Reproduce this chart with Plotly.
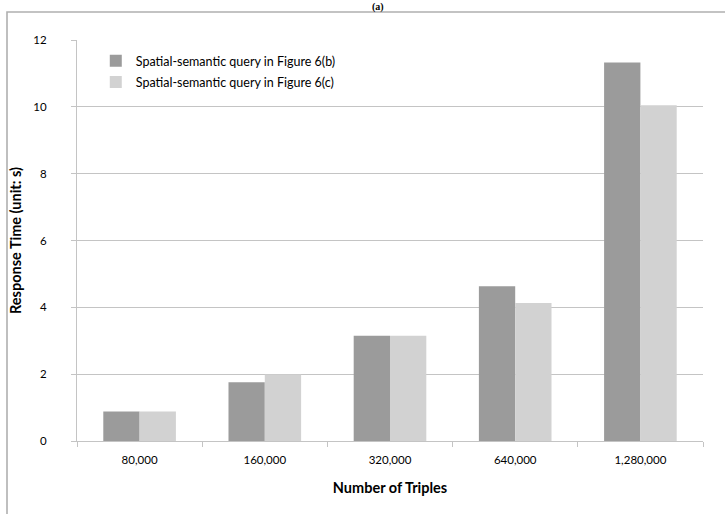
import plotly.graph_objects as go

categories = ["80,000", "160,000", "320,000", "640,000", "1,280,000"]
series_b = [0.88, 1.76, 3.15, 4.63, 11.33]
series_c = [0.88, 1.99, 3.15, 4.13, 10.05]
name_b = "Spatial-semantic query in Figure 6(b)"
name_c = "Spatial-semantic query in Figure 6(c)"

FONT = "Lato, Open Sans, sans-serif"
GRID = "#c4c4c4"

fig = go.Figure()
fig.add_trace(go.Bar(x=categories, y=series_b, name=name_b, legendgroup="b",
                     marker=dict(color="#9b9b9b", line=dict(width=0))))
fig.add_trace(go.Bar(x=categories, y=series_c, name=name_c, legendgroup="c",
                     marker=dict(color="#d2d2d2", line=dict(width=0))))

fig.update_layout(
    width=725, height=514,
    margin=dict(l=77, r=22, t=40, b=73, autoexpand=False),
    paper_bgcolor="white", plot_bgcolor="white",
    barmode="group", bargap=0.42, bargroupgap=0,
    font=dict(family=FONT, size=11.5, color="black"),
    showlegend=True,
    legend=dict(x=0.03, y=0.985, xanchor="left", yanchor="top",
                bgcolor="rgba(0,0,0,0)", font=dict(size=12.5, family=FONT),
                traceorder="grouped", tracegroupgap=2,
                itemwidth=30),
    xaxis=dict(type="category", showgrid=False, showline=True, linecolor=GRID,
               linewidth=1, ticks="outside", tickson="boundaries", ticklen=5,
               tickcolor=GRID, ticklabelstandoff=8, automargin=False,
               title=dict(text="<b>Number of Triples</b>", font=dict(size=14.5, family=FONT),
                          standoff=18)),
    yaxis=dict(range=[0, 12], dtick=2, showgrid=True, gridcolor=GRID, gridwidth=1,
               showline=True, linecolor=GRID, linewidth=1, ticks="outside",
               ticklen=5, tickcolor=GRID, ticklabelstandoff=22, zeroline=False,
               automargin=False,
               title=dict(text="<b>Response Time (unit: s)</b>", font=dict(size=14.5, family=FONT),
                          standoff=8)),
)

# outer chart frame (top and left edges visible in the crop)
fig.add_shape(type="rect", xref="paper", yref="paper", layer="below",
              x0=-70/626, x1=1.1, y0=-0.3, y1=(401+28)/401,
              line=dict(color="#b0b0b0", width=1.6), fillcolor="rgba(0,0,0,0)")

fig.add_annotation(text="<b>(a)</b>", xref="paper", yref="paper",
                   x=(378-77)/626, y=(401+40)/401, xanchor="center", yanchor="top",
                   showarrow=False, borderpad=0,
                   font=dict(family="Liberation Serif", size=10, color="black"))

fig.write_html("out.html", config={"displayModeBar": False},
               post_script="document.body.style.margin='0px';")
